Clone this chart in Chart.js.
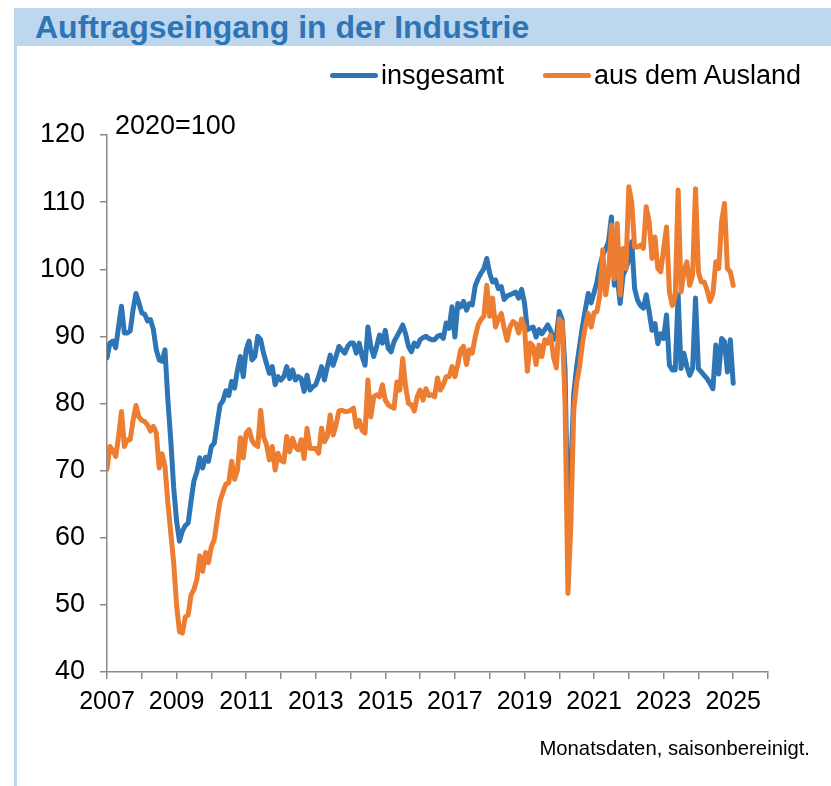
<!DOCTYPE html>
<html>
<head>
<meta charset="utf-8">
<title>Auftragseingang in der Industrie</title>
<script src="https://cdn.jsdelivr.net/npm/chart.js@4.4.1/dist/chart.umd.min.js"></script>
<style>
  html, body { margin: 0; padding: 0; background: #fff; }
  #page { position: relative; width: 831px; height: 786px; overflow: hidden;
          font-family: "Liberation Sans", Arial, sans-serif; color: #000; }
  #band { position: absolute; left: 14px; top: 8px; width: 817px; height: 38px; background: #BDD7EE; }
  #title { position: absolute; left: 35px; top: 8px; height: 38px; line-height: 38px;
           font-size: 32px; font-weight: bold; color: #2E75B6; white-space: nowrap; }
  #frame { position: absolute; left: 14px; top: 46px; width: 3px; height: 740px; background: #BDD7EE; }
  #chart { position: absolute; left: 0; top: 0; }
  .legend { position: absolute; top: 60px; height: 30px; line-height: 30px; font-size: 27px; white-space: nowrap; }
  .legend span.line { display: inline-block; width: 48px; height: 5px; border-radius: 3px;
                      vertical-align: middle; margin-right: 3px; position: relative; top: -1px; }
  #base { position: absolute; left: 115px; top: 110px; font-size: 27px; line-height: 30px; }
  #note { position: absolute; right: 21px; top: 736px; font-size: 20.3px; line-height: 24px; }
</style>
</head>
<body>
<div id="page">
  <div id="band"></div>
  <div id="title">Auftragseingang in der Industrie</div>
  <div id="frame"></div>
  <canvas id="chart" width="831" height="786"></canvas>
  <div class="legend" style="left:330px"><span class="line" style="background:#2E75B6"></span>insgesamt</div>
  <div class="legend" style="left:543px"><span class="line" style="background:#ED7D31"></span>aus dem Ausland</div>
  <div id="base">2020=100</div>
  <div id="note">Monatsdaten, saisonbereinigt.</div>
</div>
<script>
// Monatswerte ab Januar 2007, 2020=100
const startYear = 2007;
const yearTicks = [2007, 2009, 2011, 2013, 2015, 2017, 2019, 2021, 2023, 2025];

const insgesamt = [
    86.8, 89.0, 89.3, 88.3, 91.5, 94.5, 90.5, 90.5, 90.8, 94.0, 96.4, 95.0,   // 2007
    93.5, 93.3, 92.3, 92.5, 91.0, 88.0, 86.5, 86.3, 88.0, 80.5, 74.5, 67.5,   // 2008
    62.5, 59.5, 61.0, 61.8, 62.2, 65.5, 68.5, 69.8, 71.9, 70.4, 72.0, 71.4,   // 2009
    73.6, 74.1, 77.0, 79.8, 80.4, 81.9, 81.2, 83.3, 82.3, 85.0, 87.0, 84.0,   // 2010
    88.0, 89.3, 86.5, 87.0, 90.0, 89.5, 87.5, 86.0, 84.5, 85.5, 82.8, 84.0,   // 2011
    83.5, 84.0, 85.5, 83.7, 85.0, 83.5, 84.0, 83.7, 81.8, 84.2, 82.0, 82.5,   // 2012
    82.8, 84.0, 85.5, 83.5, 85.5, 87.2, 85.7, 87.0, 88.5, 88.0, 87.5, 88.5,   // 2013
    89.0, 89.0, 87.5, 89.0, 87.0, 85.7, 91.4, 88.5, 87.0, 88.5, 90.2, 89.0,   // 2014
    90.9, 88.2, 87.7, 89.2, 90.0, 90.8, 91.7, 90.4, 88.5, 87.7, 89.0, 88.5,   // 2015
    89.5, 89.8, 90.0, 89.7, 89.5, 89.5, 90.0, 90.2, 89.7, 92.0, 91.2, 94.4,   // 2016
    89.9, 94.9, 94.4, 95.2, 93.9, 94.9, 94.7, 97.5, 98.6, 99.4, 100.1, 101.6, // 2017
    99.4, 98.1, 98.4, 97.1, 97.4, 95.5, 96.0, 96.2, 96.4, 96.6, 95.7, 97.0,   // 2018
    95.0, 91.0, 91.2, 91.4, 89.9, 91.0, 90.4, 91.0, 91.7, 90.9, 89.5, 90.0,   // 2019
    93.7, 92.5, 85.0, 61.5, 70.0, 81.5, 85.5, 88.5, 91.5, 94.0, 96.4, 95.0,   // 2020
    96.5, 98.1, 100.5, 102.1, 103.0, 104.1, 107.8, 97.6, 99.0, 94.9, 99.1, 100.1, // 2021
    101.5, 104.1, 97.1, 95.4, 94.6, 94.2, 96.2, 93.7, 90.9, 91.9, 88.9, 90.4, // 2022
    89.7, 93.2, 85.7, 85.0, 85.0, 96.2, 85.2, 87.5, 85.5, 84.2, 85.2, 95.7,   // 2023
    85.2, 84.7, 84.2, 83.7, 83.0, 82.2, 88.7, 84.4, 89.7, 89.2, 84.7, 89.5,   // 2024
    83.0                                                                      // 2025
];

const ausland = [
    70.2, 73.6, 73.0, 72.1, 75.1, 78.8, 73.6, 74.6, 74.6, 77.5, 79.7, 78.0,   // 2007
    77.5, 77.3, 76.8, 75.9, 76.6, 75.6, 70.4, 72.5, 70.6, 65.2, 60.7, 56.3,   // 2008
    50.0, 46.0, 45.8, 48.2, 48.5, 51.5, 52.3, 53.8, 57.3, 55.0, 57.8, 56.3,   // 2009
    58.7, 59.7, 62.7, 65.5, 66.8, 68.0, 68.2, 71.4, 68.7, 70.1, 74.9, 71.9,   // 2010
    75.6, 76.1, 74.5, 73.9, 73.6, 79.0, 75.0, 73.9, 71.6, 73.6, 70.1, 72.6,   // 2011
    71.5, 71.3, 75.1, 72.8, 74.8, 73.5, 73.1, 74.6, 71.8, 76.3, 73.3, 73.3,   // 2012
    73.3, 72.6, 76.3, 74.3, 75.1, 78.3, 75.3, 76.8, 78.9, 79.0, 78.8, 78.8,   // 2013
    79.0, 79.3, 76.5, 77.5, 76.0, 75.6, 83.5, 78.0, 81.0, 81.3, 81.0, 82.8,   // 2014
    80.5, 79.8, 79.5, 79.3, 83.2, 82.0, 86.7, 82.5, 80.0, 79.8, 78.9, 81.0,   // 2015
    82.0, 80.5, 82.2, 81.2, 81.3, 81.0, 83.8, 82.0, 82.8, 84.0, 84.0, 85.5,   // 2016
    84.0, 85.8, 88.0, 88.5, 85.8, 88.0, 87.5, 89.9, 91.7, 92.5, 93.0, 97.6,   // 2017
    93.0, 95.7, 91.4, 92.6, 93.4, 91.2, 89.4, 91.4, 92.2, 91.9, 90.5, 92.6,   // 2018
    91.4, 84.8, 89.0, 88.5, 85.8, 88.7, 87.0, 89.5, 89.0, 90.2, 87.0, 85.3,   // 2019
    92.6, 92.0, 80.0, 51.7, 62.0, 79.0, 83.0, 85.5, 89.0, 91.5, 93.4, 91.4,   // 2020
    93.5, 93.7, 96.2, 102.9, 96.2, 99.1, 106.6, 98.6, 106.8, 96.2, 103.1, 100.1, // 2021
    112.3, 110.0, 103.3, 103.3, 103.6, 103.1, 109.3, 107.1, 101.6, 104.8, 100.1, 99.6, // 2022
    103.1, 106.3, 96.6, 94.6, 96.0, 111.8, 96.6, 99.6, 101.1, 97.6, 99.1, 112.0, // 2023
    99.6, 98.1, 98.1, 96.9, 95.2, 96.4, 101.1, 100.1, 107.1, 109.8, 100.1, 99.6, // 2024
    97.6                                                                      // 2025
];

const blue = '#2E75B6';
const orange = '#ED7D31';
const axisGrey = '#898989';

function toPoints(values) {
    // Monat i liegt bei startYear + i/12 auf der Zeitachse
    return values.map((v, i) => ({ x: startYear + i / 12, y: v }));
}

Chart.defaults.font.family = '"Liberation Sans", Arial, sans-serif';
Chart.defaults.color = '#000';

function createChart() {
    const ctx = document.getElementById('chart').getContext('2d');
    new Chart(ctx, {
        type: 'line',
        data: {
            datasets: [{
                label: 'insgesamt',
                data: toPoints(insgesamt),
                borderColor: blue,
                borderWidth: 5,
                pointRadius: 0,
                borderJoinStyle: 'round',
                borderCapStyle: 'round',
                order: 2
            }, {
                label: 'aus dem Ausland',
                data: toPoints(ausland),
                borderColor: orange,
                borderWidth: 5,
                pointRadius: 0,
                borderJoinStyle: 'round',
                borderCapStyle: 'round',
                order: 1
            }]
        },
        options: {
            responsive: false,
            animation: false,
            layout: { padding: { top: 135, right: 63, bottom: 0, left: 0 } },
            plugins: {
                legend: { display: false },
                tooltip: { enabled: false }
            },
            scales: {
                x: {
                    type: 'linear',
                    min: 2007,
                    max: 2026,
                    afterFit: scale => { scale.height = 114; },
                    border: { display: true, color: axisGrey, width: 1.5 },
                    grid: { drawOnChartArea: false, drawTicks: true, tickLength: 7, color: axisGrey, lineWidth: 1.5 },
                    ticks: {
                        stepSize: 1,
                        autoSkip: false,
                        maxRotation: 0,
                        padding: 8,
                        font: { size: 25 },
                        callback: v => (yearTicks.includes(v) ? String(v) : '')
                    }
                },
                y: {
                    min: 40,
                    max: 120,
                    afterFit: scale => { scale.width = 107; },
                    border: { display: true, color: axisGrey, width: 1.5 },
                    grid: { drawOnChartArea: false, drawTicks: true, tickLength: 7, color: axisGrey, lineWidth: 1.5 },
                    ticks: {
                        stepSize: 10,
                        padding: 15,
                        font: { size: 27 }
                    }
                }
            }
        }
    });
}

document.addEventListener('DOMContentLoaded', createChart);
</script>
</body>
</html>
